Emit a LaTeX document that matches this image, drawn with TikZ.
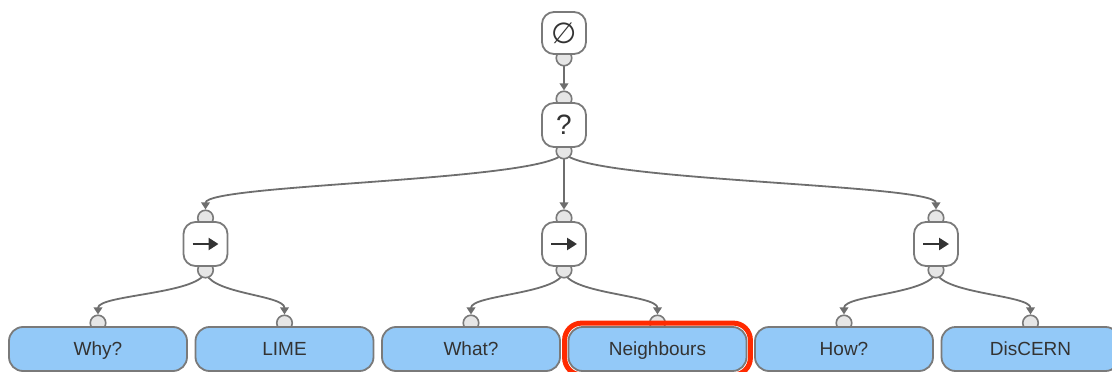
\documentclass[tikz,border=0pt]{standalone}
\usepackage{fontspec}
\setmainfont{Liberation Sans}
\newfontfamily\dejavu{DejaVu Sans}
\usetikzlibrary{arrows.meta}
\pgfdeclarelayer{back}
\pgfsetlayers{back,main}

\definecolor{edgegray}{HTML}{6E6E6E}
\definecolor{boxgray}{HTML}{7A7A7A}
\definecolor{portfill}{HTML}{E6E6E6}
\definecolor{leafblue}{HTML}{93C9F8}
\definecolor{txt}{HTML}{333333}
\definecolor{hilite}{HTML}{FF2A00}

\tikzset{
  ctrl/.style={draw=boxgray, line width=1.8pt, fill=white, rounded corners=12pt,
    minimum width=44pt, minimum height=44pt, inner sep=0pt, text=txt},
  leaf/.style={draw=boxgray, line width=1.8pt, fill=leafblue, rounded corners=14pt,
    minimum width=178pt, minimum height=44pt, inner sep=0pt, text=txt,
    font=\fontsize{19}{22}\selectfont, text height=13.6pt, text depth=0.4pt},
  port/.style={circle, draw=boxgray, line width=1.6pt, fill=portfill,
    minimum size=15.5pt, inner sep=0pt},
  link/.style={draw=edgegray, line width=1.8pt,
    -{Triangle[length=7pt,width=8.5pt]}},
  seqarrow/.style={draw=txt, line width=2.6pt,
    -{Triangle[length=10pt,width=12pt]}},
}

\begin{document}
\begin{tikzpicture}[x=1pt,y=-1pt]
\useasboundingbox (0,0) rectangle (1112,372);

% ports (drawn first so the boxes overlap them)
\node[port] (rootb) at (564,58) {};
\node[port] (qt) at (564,99) {};
\node[port] (qb) at (564,151) {};
\foreach \n/\x in {1/205.5,2/564,3/936}{
  \node[port] (s\n t) at (\x,218) {};
  \node[port] (s\n b) at (\x,270) {};
}
\foreach \n/\x in {1/98,2/284.5,3/471,4/657.5,5/844,6/1030.5}{
  \node[port] (l\n t) at (\x,323) {};
}

% control nodes
\node[ctrl, minimum height=42pt] (root) at (564,33) {\dejavu\fontsize{29}{30}\selectfont ∅};
\node[ctrl] (q) at (564,125) {\fontsize{28}{30}\selectfont ?};
\node[ctrl] (s1) at (205.5,244) {};
\node[ctrl] (s2) at (564,244) {};
\node[ctrl] (s3) at (936,244) {};
\foreach \n in {1,2,3}{
  \draw[seqarrow] ([xshift=-13pt]s\n.center) -- ([xshift=13pt]s\n.center);
}

% leaf nodes
\node[leaf] (l1) at (98,349) {Why?};
\node[leaf] (l2) at (284.5,349) {LIME};
\node[leaf] (l3) at (471,349) {What?};
\node[leaf] (l4) at (657.5,349) {Neighbours};
\node[leaf] (l5) at (844,349) {How?};
\node[leaf] (l6) at (1030.5,349) {DisCERN};

% highlight around the selected leaf
\draw[hilite, line width=5pt, rounded corners=17pt]
  ([shift={(-3pt,3pt)}]l4.north west) rectangle ([shift={(3pt,-3pt)}]l4.south east);

% connectors
\begin{pgfonlayer}{back}
\draw[link] (rootb.center) -- (qt.north);
\draw[link] (qb.center) .. controls +(0,30) and +(0,-26) .. (s1t.north);
\draw[link] (qb.center) -- (s2t.north);
\draw[link] (qb.center) .. controls +(0,30) and +(0,-26) .. (s3t.north);
\draw[link] (s1b.center) .. controls +(0,24) and +(0,-20) .. (l1t.north);
\draw[link] (s1b.center) .. controls +(0,24) and +(0,-20) .. (l2t.north);
\draw[link] (s2b.center) .. controls +(0,24) and +(0,-20) .. (l3t.north);
\draw[link] (s2b.center) .. controls +(0,24) and +(0,-20) .. (l4t.north);
\draw[link] (s3b.center) .. controls +(0,24) and +(0,-20) .. (l5t.north);
\draw[link] (s3b.center) .. controls +(0,24) and +(0,-20) .. (l6t.north);
\end{pgfonlayer}
\end{tikzpicture}
\end{document}
